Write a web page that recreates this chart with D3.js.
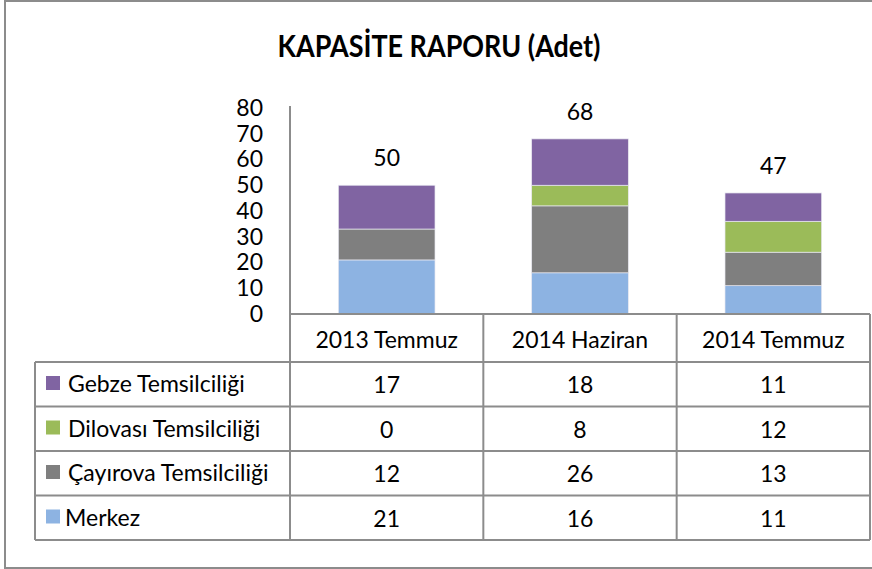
<!DOCTYPE html>
<html lang="tr">
  <head>
   <meta http-equiv="Content-Type" content="text/html;charset=utf-8">
   <title>Kapasite Raporu</title>
   <script type="text/javascript" src="https://cdn.jsdelivr.net/npm/d3@7"></script>
   <style>
     body { margin: 0; background: white; }
     text { font-family: Lato, "Open Sans", sans-serif; fill: #000; }
   </style>
  </head>
  <body>
<script>

// values
var categories = ["2013 Temmuz", "2014 Haziran", "2014 Temmuz"]
var seriesNames = ["Gebze Temsilciliği", "Dilovası Temsilciliği", "Çayırova Temsilciliği", "Merkez"]
var gebze = [17, 18, 11]
var dilovasi = [0, 8, 12]
var cayirova = [12, 26, 13]
var merkez = [21, 16, 11]
var totals = [50, 68, 47]
var yTicks = [0, 10, 20, 30, 40, 50, 60, 70, 80]
var colors = ["#8064a2", "#9bbb59", "#7f7f7f", "#8db3e2"]

var seriesValues = [gebze, dilovasi, cayirova, merkez]

var width = 872, height = 569
var lineColor = "#8c8c8c"
var fs = 23

var svg = d3.select("body").append("svg")
  .attr("width", width)
  .attr("height", height)

// outer frame
svg.append("rect")
  .attr("x", 5).attr("y", 1)
  .attr("width", width + 10).attr("height", 567)
  .attr("fill", "white")
  .attr("stroke", lineColor)
  .attr("stroke-width", 2)

svg.append("text")
  .attr("x", 439).attr("y", 57)
  .attr("text-anchor", "middle")
  .attr("font-weight", "bold")
  .attr("font-size", 30)
  .attr("textLength", 323)
  .attr("lengthAdjust", "spacingAndGlyphs")
  .text("KAPASİTE RAPORU (Adet)")

var x = d3.scaleBand().domain(categories).range([290, 870])
var y = d3.scaleLinear().domain([0, 80]).range([314, 108])

// stacked data, bottom first
var rows = categories.map(function(c, i){
  var r = {cat: c}
  seriesNames.forEach(function(s, j){ r[s] = seriesValues[j][i] })
  return r
})
var stackOrder = seriesNames.slice().reverse()
var stacked = d3.stack().keys(stackOrder)(rows)

var barW = x.bandwidth() * 0.5

svg.append("g").selectAll("g").data(stacked).enter().append("g")
  .attr("fill", function(d){ return colors[seriesNames.indexOf(d.key)] })
  .selectAll("rect").data(function(d){ return d }).enter().append("rect")
  .attr("x", function(d){ return x(d.data.cat) + (x.bandwidth() - barW) / 2 })
  .attr("width", barW)
  .attr("y", function(d){ return y(d[1]) })
  .attr("height", function(d){ return y(d[0]) - y(d[1]) })
  .attr("stroke", "#e8e8f0")
  .attr("stroke-width", 0.7)

// total labels
svg.append("g").selectAll("text").data(totals).enter().append("text")
  .attr("x", function(d, i){ return x(categories[i]) + x.bandwidth() / 2 })
  .attr("y", function(d){ return y(d) - 19 })
  .attr("text-anchor", "middle")
  .attr("font-size", fs)
  .text(function(d){ return d })

// y axis
var yAxis = svg.append("g")
  .attr("transform", "translate(290,0)")
  .call(d3.axisLeft(y).tickValues(yTicks).tickSize(0).tickPadding(27))
yAxis.select(".domain").remove()
yAxis.selectAll("text")
  .attr("font-size", fs)
  .attr("font-family", "Lato, 'Open Sans', sans-serif")
  .attr("fill", "#000")

// data table
var rowY = d3.scaleBand().domain(seriesNames).range([362, 540])
var table = svg.append("g")
  .attr("stroke", lineColor)
  .attr("stroke-width", 2)

table.append("line").attr("x1", 290).attr("x2", 290).attr("y1", 106).attr("y2", 540)
table.append("line").attr("x1", 290).attr("x2", 870).attr("y1", 314).attr("y2", 314)
table.append("line").attr("x1", 35).attr("x2", 35).attr("y1", 362).attr("y2", 540)
categories.forEach(function(c){
  table.append("line")
    .attr("x1", x(c) + x.bandwidth()).attr("x2", x(c) + x.bandwidth())
    .attr("y1", 314).attr("y2", 540)
})
seriesNames.forEach(function(s){
  table.append("line").attr("x1", 35).attr("x2", 870)
    .attr("y1", rowY(s)).attr("y2", rowY(s))
})
table.append("line").attr("x1", 35).attr("x2", 870).attr("y1", 540).attr("y2", 540)

// header
svg.append("g").selectAll("text").data(categories).enter().append("text")
  .attr("x", function(d){ return x(d) + x.bandwidth() / 2 })
  .attr("y", 348)
  .attr("text-anchor", "middle")
  .attr("font-size", fs)
  .text(function(d){ return d })

// row labels with swatches
var rowG = svg.append("g").selectAll("g").data(seriesNames).enter().append("g")
  .attr("transform", function(d){ return "translate(0," + rowY(d) + ")" })

rowG.append("rect")
  .attr("x", 46).attr("y", 14)
  .attr("width", 14).attr("height", 14)
  .attr("fill", function(d, i){ return colors[i] })

rowG.append("text")
  .attr("x", function(d){ return d == "Merkez" ? 65 : 68 })
  .attr("y", 30)
  .attr("font-size", fs)
  .text(function(d){ return d })

rowG.selectAll("text.val").data(function(d, i){ return seriesValues[i] }).enter().append("text")
  .attr("class", "val")
  .attr("x", function(d, i){ return x(categories[i]) + x.bandwidth() / 2 })
  .attr("y", 31)
  .attr("text-anchor", "middle")
  .attr("font-size", fs)
  .text(function(d){ return d })

</script>
  </body>
</html>
